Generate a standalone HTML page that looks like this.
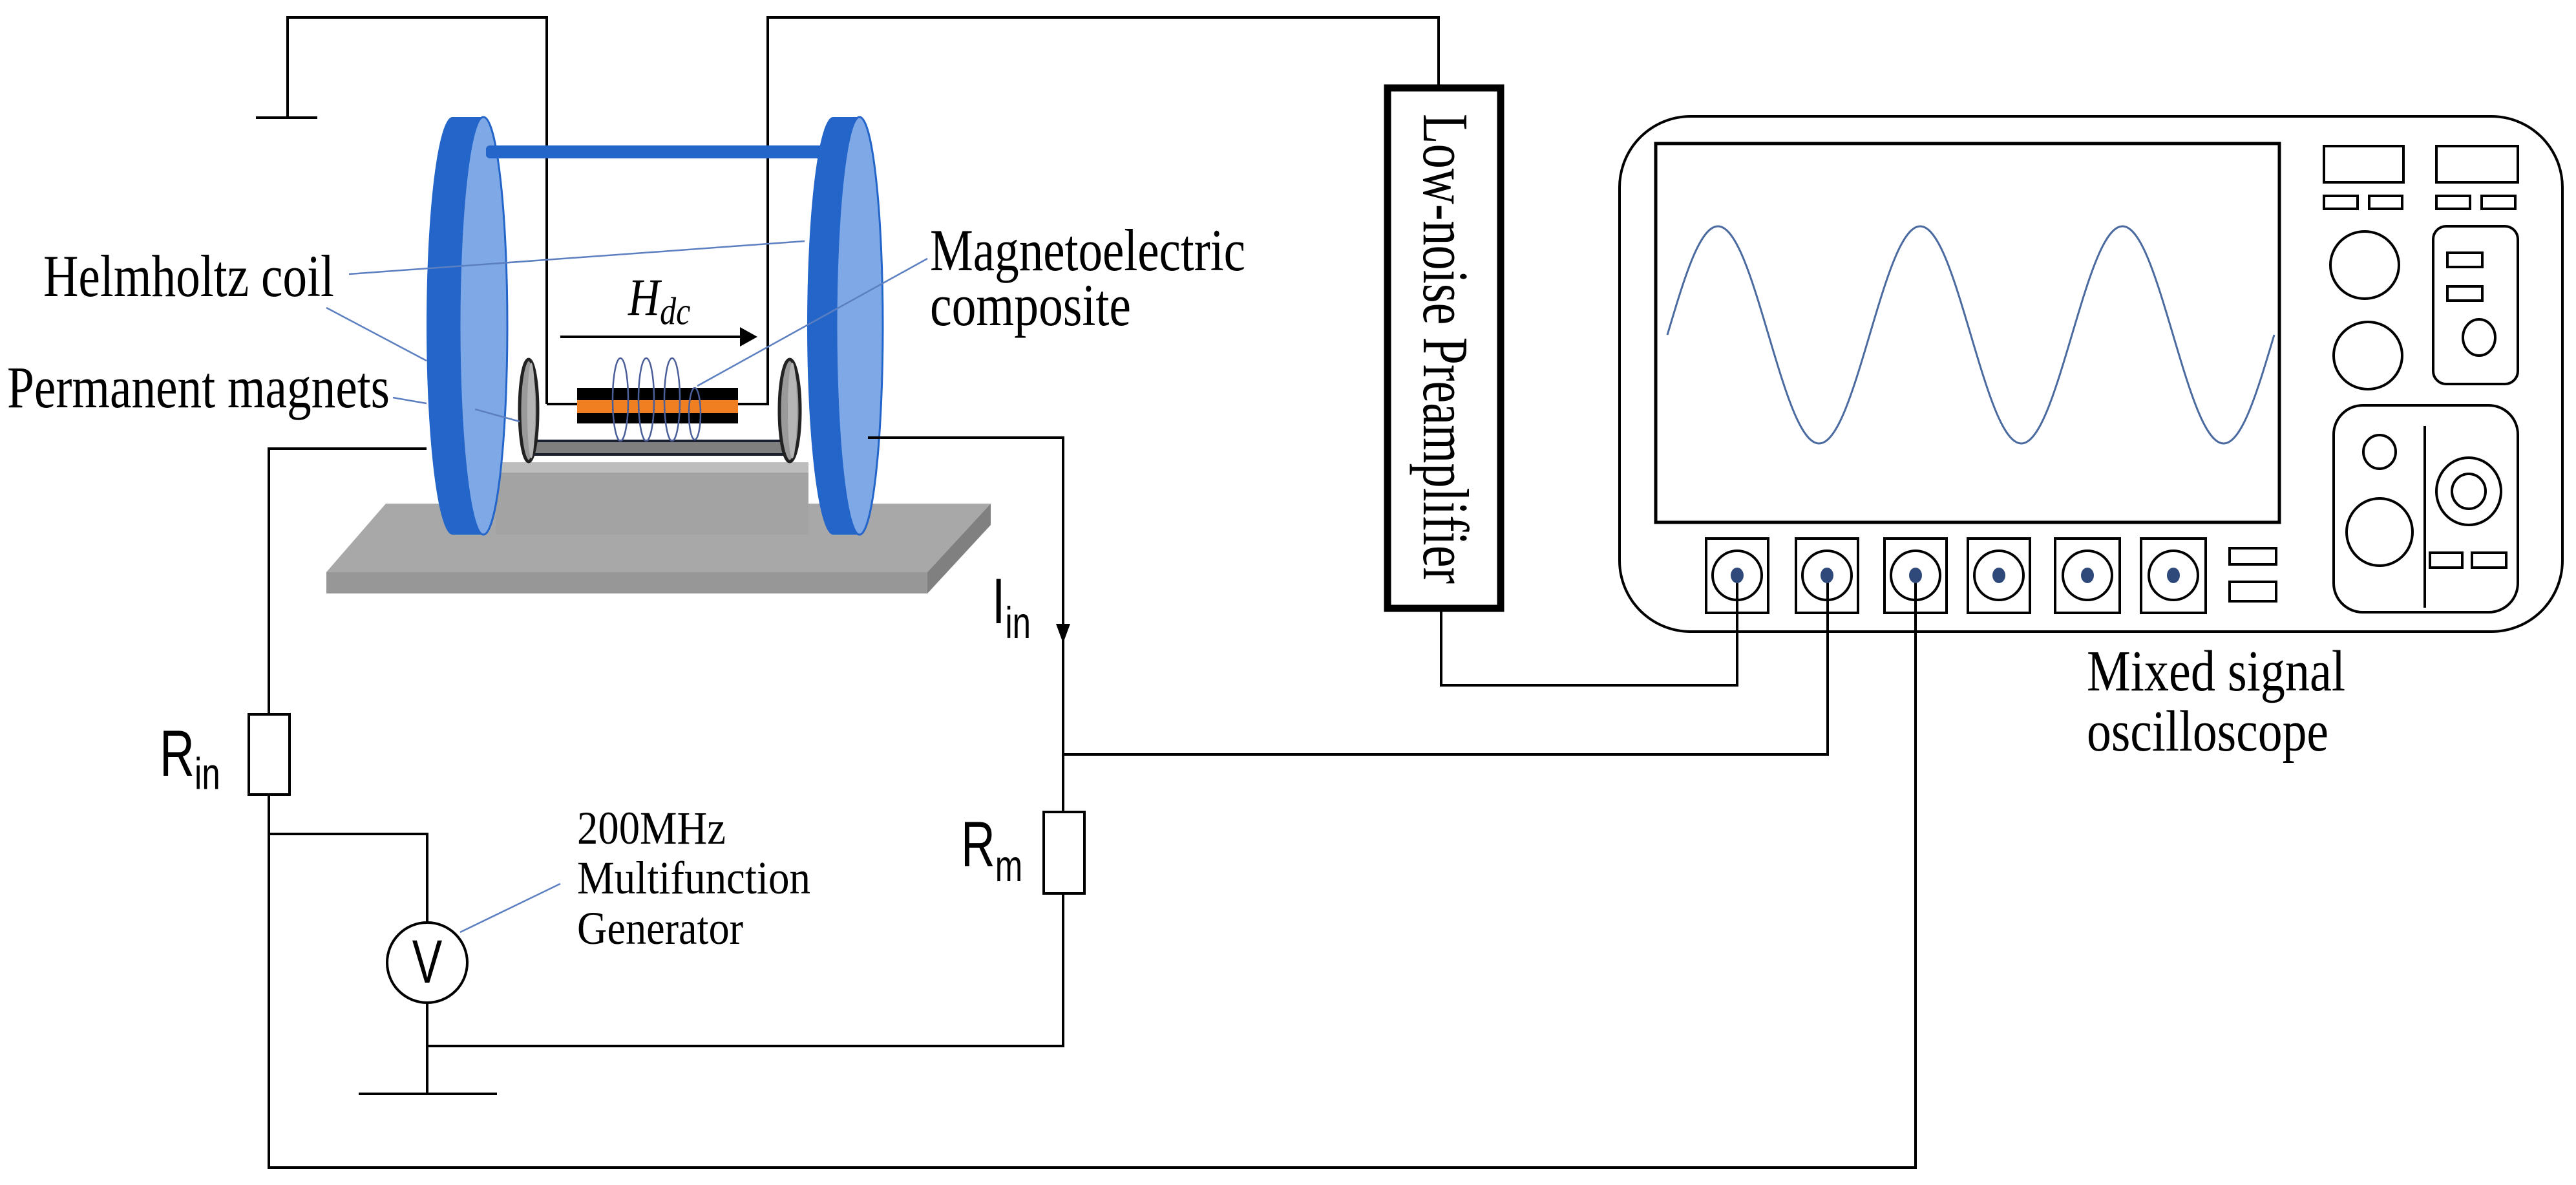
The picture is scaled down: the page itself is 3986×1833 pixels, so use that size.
<!DOCTYPE html>
<html><head><meta charset="utf-8"><style>
html,body{margin:0;padding:0;background:#fff;}
svg{display:block;}
text{font-family:"Liberation Serif",serif;fill:#000;}
.s{font-family:"Liberation Sans",sans-serif;}
</style></head><body>
<svg width="3986" height="1833" viewBox="0 0 3986 1833" xmlns="http://www.w3.org/2000/svg">
<rect width="3986" height="1833" fill="#fff"/>
<g fill="none" stroke="#000" stroke-width="4">
<polyline points="846,625 846,27 445,27 445,182"/>
<line x1="396" y1="182" x2="491" y2="182"/>
<polyline points="846,625 893,625"/>
<polyline points="1142,625 1188,625 1188,27 2226,27 2226,136"/>
</g>
<polygon points="597,779 1533,779 1435,885 505,885" fill="#a8a8a8"/>
<polygon points="505,885 1435,885 1435,918 505,918" fill="#979797"/>
<polygon points="1533,779 1533,812 1435,918 1435,885" fill="#808080"/>
<rect x="767" y="715" width="484" height="112" fill="#a3a3a3"/>
<rect x="767" y="715" width="484" height="16" fill="#bdbdbd"/>
<rect x="818" y="682" width="404" height="21" fill="#7f7f7f" stroke="#1a2030" stroke-width="4"/>
<ellipse cx="818" cy="635" rx="14" ry="79" fill="#9a9a9a" stroke="#222" stroke-width="5"/>
<ellipse cx="822" cy="635" rx="6" ry="74" fill="#b5b5b5"/>
<ellipse cx="1222" cy="635" rx="16" ry="79" fill="#9a9a9a" stroke="#222" stroke-width="5"/>
<ellipse cx="1226" cy="635" rx="7" ry="74" fill="#b5b5b5"/>
<rect x="893" y="600" width="249" height="55" fill="#000"/>
<rect x="893" y="619" width="249" height="20" fill="#f07f22"/>
<g fill="none" stroke="#4a5f9a" stroke-width="2.5">
<ellipse cx="960" cy="618" rx="12" ry="64"/>
<ellipse cx="1000" cy="618" rx="12" ry="64"/>
<ellipse cx="1040" cy="618" rx="12" ry="64"/>
<ellipse cx="1075" cy="640" rx="9" ry="40"/>
</g>
<line x1="867" y1="521" x2="1150" y2="521" stroke="#000" stroke-width="4"/>
<polygon points="1172,521 1145,506 1145,536" fill="#000"/>
<text transform="translate(972,487) scale(1,1.2)" font-style="italic" font-size="68">H<tspan font-size="50" dy="12">dc</tspan></text>
<ellipse cx="700" cy="504" rx="40" ry="323" fill="#2465c9"/>
<rect x="700" y="181" width="45" height="646" fill="#2465c9"/>
<ellipse cx="748" cy="504" rx="37" ry="323" fill="#7ea9e6" stroke="#2465c9" stroke-width="3"/>
<rect x="752" y="225" width="522" height="20" rx="6" fill="#2465c9"/>
<ellipse cx="1289" cy="504" rx="40" ry="323" fill="#2465c9"/>
<rect x="1289" y="181" width="40" height="646" fill="#2465c9"/>
<ellipse cx="1330" cy="504" rx="36" ry="323" fill="#7ea9e6" stroke="#2465c9" stroke-width="3"/>
<g stroke="#5b7fc0" stroke-width="2.5" fill="none">
<line x1="540" y1="424" x2="1245" y2="373"/>
<line x1="505" y1="476" x2="660" y2="558"/>
<line x1="608" y1="615" x2="660" y2="624"/>
<line x1="735" y1="633" x2="804" y2="652"/>
<line x1="1435" y1="400" x2="1079" y2="597"/>
<line x1="712" y1="1442" x2="867" y2="1367"/>
</g>
<g fill="none" stroke="#000" stroke-width="4">
<polyline points="660,694 416,694 416,1105"/>
<polyline points="416,1229 416,1806 2964,1806 2964,890"/>
<polyline points="416,1290 661,1290 661,1427"/>
<polyline points="661,1551 661,1692"/>
<line x1="555" y1="1692" x2="769" y2="1692"/>
<polyline points="661,1618 1645,1618 1645,1382"/>
<polyline points="1343,677 1645,677 1645,1256"/>
<polyline points="1645,1167 2828,1167 2828,890"/>
<polyline points="2230,941 2230,1060 2688,1060 2688,890"/>
</g>
<polygon points="1645,995 1634,965 1656,965" fill="#000"/>
<rect x="385" y="1105" width="63" height="124" fill="#fff" stroke="#000" stroke-width="4"/>
<rect x="1615" y="1256" width="63" height="126" fill="#fff" stroke="#000" stroke-width="4"/>
<ellipse cx="661" cy="1489" rx="62" ry="62" fill="#fff" stroke="#000" stroke-width="4"/>
<text class="s" transform="translate(661,1520) scale(0.85,1.15)" font-size="82" text-anchor="middle">V</text>
<text class="s" transform="translate(247,1200) scale(0.85,1.15)" font-size="88">R<tspan font-size="60" dy="18">in</tspan></text>
<text class="s" transform="translate(1487,1340) scale(0.85,1.15)" font-size="86">R<tspan font-size="60" dy="20">m</tspan></text>
<text class="s" transform="translate(1535,964) scale(0.85,1.15)" font-size="86">I<tspan font-size="60" dy="20">in</tspan></text>
<text transform="translate(67,458) scale(1,1.25)" font-size="74" textLength="450" lengthAdjust="spacingAndGlyphs">Helmholtz coil</text>
<text transform="translate(11,630) scale(1,1.25)" font-size="74" textLength="592" lengthAdjust="spacingAndGlyphs">Permanent magnets</text>
<text transform="translate(1439,418) scale(1,1.25)" font-size="74" textLength="488" lengthAdjust="spacingAndGlyphs">Magnetoelectric</text>
<text transform="translate(1439,503) scale(1,1.25)" font-size="74" textLength="311" lengthAdjust="spacingAndGlyphs">composite</text>
<text transform="translate(893,1305) scale(1,1.25)" font-size="58" textLength="230" lengthAdjust="spacingAndGlyphs">200MHz</text>
<text transform="translate(893,1382) scale(1,1.25)" font-size="58" textLength="361" lengthAdjust="spacingAndGlyphs">Multifunction</text>
<text transform="translate(893,1460) scale(1,1.25)" font-size="58" textLength="257" lengthAdjust="spacingAndGlyphs">Generator</text>
<text transform="translate(3229,1068) scale(1,1.25)" font-size="72" textLength="400" lengthAdjust="spacingAndGlyphs">Mixed signal</text>
<text transform="translate(3229,1161) scale(1,1.25)" font-size="72" textLength="374" lengthAdjust="spacingAndGlyphs">oscilloscope</text>
<rect x="2147" y="136" width="175" height="805" fill="#fff" stroke="#000" stroke-width="11"/>
<text transform="translate(2203,176) rotate(90) scale(1,1.2)" x="0" y="0" font-size="84" textLength="727" lengthAdjust="spacingAndGlyphs">Low-noise Preamplifier</text>
<g fill="none" stroke="#000" stroke-width="4">
<rect x="2506" y="180" width="1459" height="797" rx="110"/>
<rect x="2562" y="222" width="965" height="586" stroke-width="5"/>
<rect x="3596" y="226" width="123" height="56"/>
<rect x="3770" y="226" width="126" height="56"/>
<rect x="3596" y="303" width="52" height="20"/>
<rect x="3666" y="303" width="51" height="20"/>
<rect x="3770" y="303" width="52" height="20"/>
<rect x="3840" y="303" width="52" height="20"/>
<ellipse cx="3659" cy="410" rx="53" ry="52"/>
<ellipse cx="3664" cy="550" rx="53" ry="52"/>
<rect x="3765" y="350" width="131" height="244" rx="20"/>
<rect x="3787" y="391" width="54" height="22"/>
<rect x="3787" y="443" width="54" height="22"/>
<ellipse cx="3836" cy="522" rx="25" ry="28"/>
<rect x="3611" y="627" width="285" height="320" rx="45"/>
<line x1="3752" y1="659" x2="3752" y2="940"/>
<ellipse cx="3682" cy="699" rx="25" ry="26"/>
<ellipse cx="3682" cy="823" rx="51" ry="52"/>
<ellipse cx="3820" cy="760" rx="50" ry="52"/>
<ellipse cx="3820" cy="760" rx="26" ry="27"/>
<rect x="3760" y="855" width="50" height="23"/>
<rect x="3825" y="855" width="53" height="23"/>
<rect x="3450" y="848" width="72" height="25"/>
<rect x="3450" y="900" width="72" height="30"/>
<rect x="2640" y="833" width="96" height="115"/>
<rect x="2779" y="833" width="96" height="115"/>
<rect x="2916" y="833" width="96" height="115"/>
<rect x="3045" y="833" width="96" height="115"/>
<rect x="3180" y="833" width="100" height="115"/>
<rect x="3313" y="833" width="100" height="115"/>
<circle cx="2688" cy="890" r="38"/>
<circle cx="2827" cy="890" r="38"/>
<circle cx="2964" cy="890" r="38"/>
<circle cx="3093" cy="890" r="38"/>
<circle cx="3230" cy="890" r="38"/>
<circle cx="3363" cy="890" r="38"/>
</g>
<g fill="#2f4a7a">
<ellipse cx="2688" cy="890" rx="10" ry="12"/>
<ellipse cx="2827" cy="890" rx="10" ry="12"/>
<ellipse cx="2964" cy="890" rx="10" ry="12"/>
<ellipse cx="3093" cy="890" rx="10" ry="12"/>
<ellipse cx="3230" cy="890" rx="10" ry="12"/>
<ellipse cx="3363" cy="890" rx="10" ry="12"/>
</g>
<path fill="none" stroke="#4a6aa0" stroke-width="3" d="M2580,518
c26.2,-88.2 50,-168 78.25,-168 c28.25,0 52.05,79.8 78.25,168 c26.2,88.2 50,168 78.25,168 c28.25,0 52.05,-79.8 78.25,-168
c26.2,-88.2 50,-168 78.25,-168 c28.25,0 52.05,79.8 78.25,168 c26.2,88.2 50,168 78.25,168 c28.25,0 52.05,-79.8 78.25,-168
c26.2,-88.2 50,-168 78.25,-168 c28.25,0 52.05,79.8 78.25,168 c26.2,88.2 50,168 78.25,168 c28.25,0 52.05,-79.8 78.25,-168"/>
</svg>
</body></html>
